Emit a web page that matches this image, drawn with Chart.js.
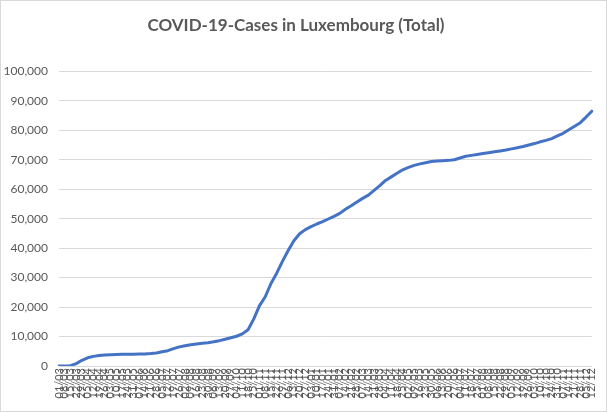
<!DOCTYPE html>
<html>
<head>
<meta charset="utf-8">
<script src="https://cdn.jsdelivr.net/npm/chart.js@4.4.1/dist/chart.umd.min.js"></script>
<style>
  html, body { margin: 0; padding: 0; background: #ffffff; }
  #wrap { width: 607px; height: 412px; position: relative; }
</style>
</head>
<body>
<div id="wrap"><canvas id="c" width="607" height="412"></canvas></div>
<script>
const chartTitle = "COVID-19-Cases in Luxembourg (Total)";

const dates = [
  "01/03","08/03","15/03","22/03","29/03","05/04","12/04","19/04","26/04","03/05",
  "10/05","17/05","24/05","31/05","07/06","14/06","21/06","28/06","05/07","12/07",
  "19/07","26/07","02/08","09/08","16/08","23/08","30/08","06/09","13/09","20/09",
  "27/09","04/10","11/10","18/10","25/10","01/11","08/11","15/11","22/11","29/11",
  "06/12","13/12","20/12","27/12","03/01","10/01","17/01","24/01","31/01","07/02",
  "14/02","21/02","28/02","07/03","14/03","21/03","28/03","04/04","11/04","18/04",
  "25/04","02/05","09/05","16/05","23/05","30/05","06/06","13/06","20/06","27/06",
  "04/07","11/07","18/07","25/07","01/08","08/08","15/08","22/08","29/08","05/09",
  "12/09","19/09","26/09","03/10","10/10","17/10","24/10","31/10","07/11","14/11",
  "21/11","28/11","05/12","12/12"
];

const totalCases = [
  0, 3, 77, 800, 1950, 2800, 3270, 3550, 3720, 3820,
  3880, 3950, 3990, 4020, 4050, 4100, 4220, 4440, 4840, 5200,
  5900, 6500, 6900, 7200, 7500, 7700, 7900, 8200, 8600, 9100,
  9600, 10100, 10900, 12300, 16000, 20500, 23500, 28000, 31500, 35500,
  39200, 42500, 44900, 46300, 47300, 48200, 49000, 49900, 50800, 51800,
  53200, 54400, 55700, 56900, 58000, 59600, 61200, 63000, 64200, 65400,
  66600, 67400, 68100, 68600, 69000, 69400, 69600, 69700, 69800, 70000,
  70600, 71200, 71500, 71800, 72100, 72400, 72700, 73000, 73300, 73700,
  74100, 74500, 75000, 75500, 76100, 76600, 77200, 78100, 79000, 80200,
  81400, 82600, 84500, 86500
];

const yMin = 0, yMax = 100000, yStep = 10000;

const frame = {
  id: 'frame',
  beforeDraw(chart) {
    const ctx = chart.ctx;
    ctx.save();
    ctx.fillStyle = '#ffffff';
    ctx.fillRect(0, 0, chart.width, chart.height);
    ctx.restore();
  },
  afterDraw(chart) {
    const ctx = chart.ctx;
    ctx.save();
    ctx.strokeStyle = '#d9d9d9';
    ctx.lineWidth = 1;
    ctx.strokeRect(0.5, 0.5, chart.width - 1, chart.height - 1);
    ctx.restore();
  }
};

new Chart(document.getElementById('c'), {
  type: 'line',
  data: {
    labels: dates,
    datasets: [{
      label: 'Total',
      data: totalCases,
      borderColor: '#4472C4',
      backgroundColor: '#4472C4',
      borderWidth: 3,
      pointRadius: 0,
      pointHoverRadius: 0,
      tension: 0,
      fill: false,
      borderCapStyle: 'round',
      borderJoinStyle: 'round'
    }]
  },
  options: {
    responsive: false,
    animation: false,
    events: [],
    layout: { padding: { left: 0, right: 15, top: 0, bottom: 0 } },
    plugins: {
      legend: { display: false },
      tooltip: { enabled: false },
      title: {
        display: true,
        text: chartTitle,
        color: '#595959',
        font: { family: 'Lato', size: 17, weight: 'bold' },
        padding: { top: 15, bottom: 36 }
      }
    },
    scales: {
      x: {
        type: 'category',
        offset: false,
        grid: { display: false, drawTicks: false },
        border: { display: false },
        ticks: {
          autoSkip: false,
          minRotation: 90,
          maxRotation: 90,
          padding: 2,
          color: '#595959',
          font: { family: 'Lato', size: 11 }
        },
        afterFit(scale) { scale.height = 46; }
      },
      y: {
        min: yMin,
        max: yMax,
        grid: { color: '#d9d9d9', drawTicks: false, lineWidth: 1 },
        border: { display: false },
        ticks: {
          stepSize: yStep,
          padding: 11,
          color: '#595959',
          font: { family: 'Lato', size: 12 },
          callback: (v) => String(v).replace(/\B(?=(\d{3})+(?!\d))/g, ',')
        },
        afterFit(scale) { scale.width = 59; }
      }
    }
  },
  plugins: [frame]
});
</script>
</body>
</html>
